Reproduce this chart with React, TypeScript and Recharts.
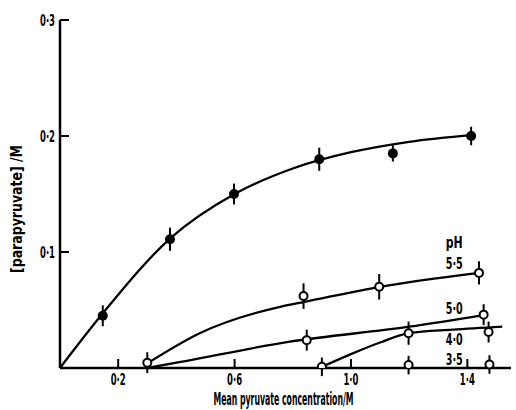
import React from 'react';
import { ComposedChart, Line, Scatter, XAxis, YAxis, ErrorBar, ReferenceDot } from 'recharts';

const FONT = '"DejaVu Sans Condensed", "Liberation Sans Narrow", "DejaVu Sans", sans-serif';

// fitted curves
const curveFilledX = [0, 0.15, 0.38, 0.6, 0.8, 1.0, 1.2, 1.42];
const curveFilledY = [0, 0.048, 0.112, 0.15, 0.172, 0.186, 0.195, 0.201];
const curve55X = [0.3, 0.48, 0.76, 0.84, 1.1, 1.44];
const curve55Y = [0.004, 0.03, 0.053, 0.057, 0.07, 0.082];
const curve50X = [0.3, 0.41, 0.79, 1.2, 1.456];
const curve50Y = [0, 0.005, 0.0227, 0.0356, 0.0457];
const curve40X = [0.9, 1.0, 1.1, 1.2, 1.35, 1.52];
const curve40Y = [0.001, 0.012, 0.022, 0.03, 0.033, 0.0356];

// measured points
const filledX = [0.147, 0.378, 0.598, 0.891, 1.144, 1.413];
const filledY = [0.045, 0.111, 0.15, 0.18, 0.185, 0.2];
const filledErr = [0.009, 0.01, 0.009, 0.01, 0.007, 0.008];
const open55X = [0.3, 0.837, 1.097, 1.44];
const open55Y = [0.0046, 0.062, 0.07, 0.082];
const open55Err = [0.009, 0.011, 0.011, 0.01];
const open50X = [0.848, 1.456];
const open50Y = [0.024, 0.046];
const open50Err = [0.009, 0.009];
const open40X = [0.9, 1.198, 1.473];
const open40Y = [0.001, 0.03, 0.031];
const open40Err = [0.008, 0.01, 0.009];
const open35X = [1.198, 1.476];
const open35Y = [0.0025, 0.003];
const open35Err = [0.008, 0.008];

// tick values
const xTicks = [0.2, 0.6, 1.0, 1.4];
const yTicks = [0.1, 0.2, 0.3];

// annotation labels
const labelTexts = ['pH', '5·5', '5·0', '4·0', '3·5'];
const labelX = [1.355, 1.355, 1.355, 1.355, 1.355];
const labelY = [0.108, 0.09, 0.051, 0.0245, 0.0075];

const pts = (xs: number[], ys: number[], es?: number[]) =>
  xs.map((x, i) => ({ x, y: ys[i], err: es ? es[i] : 0 }));

const fmt = (v: number) => v.toFixed(1).replace('.', '·');

const XTick = (props: any) => {
  const { x, y, payload } = props;
  return (
    <g>
      <line x1={x} x2={x} y1={y} y2={y - 9} stroke="#000" strokeWidth={2} />
      <text x={x} y={y + 17} textAnchor="middle" fontFamily={FONT} fontWeight="bold" fontSize={16}
        textLength={15} lengthAdjust="spacingAndGlyphs" fill="#000">{fmt(payload.value)}</text>
    </g>
  );
};

const YTick = (props: any) => {
  const { x, y, payload } = props;
  return (
    <g>
      <line x1={x} x2={x + 9} y1={y} y2={y} stroke="#000" strokeWidth={2} />
      <text x={x - 5} y={y + 6} textAnchor="end" fontFamily={FONT} fontWeight="bold" fontSize={16}
        textLength={15} lengthAdjust="spacingAndGlyphs" fill="#000">{fmt(payload.value)}</text>
    </g>
  );
};

const FilledDot = (p: any) => <circle cx={p.cx} cy={p.cy} r={5} fill="#000" />;
const OpenDot = (p: any) => <circle cx={p.cx} cy={p.cy} r={4} fill="#fff" stroke="#000" strokeWidth={2} />;

const lineProps = { type: 'monotone' as const, dataKey: 'y', stroke: '#000', strokeWidth: 2.3, dot: false, activeDot: false, isAnimationActive: false };

export default function App() {
  return (
    <div style={{ position: 'absolute', left: 0, top: 0, background: '#fff' }}>
      <ComposedChart width={516} height={410} margin={{ top: 20, right: 5, bottom: 0, left: 0 }}>
        <XAxis type="number" dataKey="x" domain={[0, 1.55]} ticks={xTicks} tickSize={0} tickMargin={0}
          tickLine={false} axisLine={{ stroke: '#000', strokeWidth: 2.5 }} tick={<XTick />} height={42}
          allowDataOverflow
          label={(props: any) => {
            const vb = props.viewBox;
            return (
              <text x={vb.x + vb.width / 2 - 2} y={vb.y + 37} textAnchor="middle" fontFamily={FONT}
                fontWeight="bold" fontSize={18} textLength={140} lengthAdjust="spacingAndGlyphs" fill="#000">
                Mean pyruvate concentration/M
              </text>
            );
          }} />
        <YAxis type="number" dataKey="y" domain={[0, 0.3]} ticks={yTicks} tickSize={0} tickMargin={0}
          tickLine={false} axisLine={{ stroke: '#000', strokeWidth: 2.5 }} tick={<YTick />} width={60}
          allowDataOverflow
          label={(props: any) => {
            const vb = props.viewBox;
            const cx = vb.x + 22;
            const cy = vb.y + vb.height / 2 + 15;
            return (
              <text transform={`translate(${cx},${cy}) rotate(-90)`} textAnchor="middle" fontFamily={FONT}
                fontWeight="bold" fontSize={16} textLength={128} lengthAdjust="spacingAndGlyphs" fill="#000">
                [parapyruvate] /M
              </text>
            );
          }} />
        <Line {...lineProps} data={pts(curveFilledX, curveFilledY)} />
        <Line {...lineProps} data={pts(curve55X, curve55Y)} />
        <Line {...lineProps} data={pts(curve50X, curve50Y)} />
        <Line {...lineProps} data={pts(curve40X, curve40Y)} />
        <Scatter data={pts(filledX, filledY, filledErr)} shape={FilledDot} isAnimationActive={false}>
          <ErrorBar dataKey="err" direction="y" width={0} stroke="#000" strokeWidth={2} />
        </Scatter>
        <Scatter data={pts(open55X, open55Y, open55Err)} shape={OpenDot} isAnimationActive={false}>
          <ErrorBar dataKey="err" direction="y" width={0} stroke="#000" strokeWidth={2} />
        </Scatter>
        <Scatter data={pts(open50X, open50Y, open50Err)} shape={OpenDot} isAnimationActive={false}>
          <ErrorBar dataKey="err" direction="y" width={0} stroke="#000" strokeWidth={2} />
        </Scatter>
        <Scatter data={pts(open40X, open40Y, open40Err)} shape={OpenDot} isAnimationActive={false}>
          <ErrorBar dataKey="err" direction="y" width={0} stroke="#000" strokeWidth={2} />
        </Scatter>
        <Scatter data={pts(open35X, open35Y, open35Err)} shape={OpenDot} isAnimationActive={false}>
          <ErrorBar dataKey="err" direction="y" width={0} stroke="#000" strokeWidth={2} />
        </Scatter>
        {labelTexts.map((t, i) => (
          <ReferenceDot key={t} x={labelX[i]} y={labelY[i]} r={0} ifOverflow="visible"
            shape={(p: any) => (
              <text x={p.cx} y={p.cy + 5.5} textAnchor="middle" fontFamily={FONT} fontWeight="bold"
                fontSize={15} textLength={17} lengthAdjust="spacingAndGlyphs" fill="#000">{t}</text>
            )} />
        ))}
      </ComposedChart>
    </div>
  );
}
